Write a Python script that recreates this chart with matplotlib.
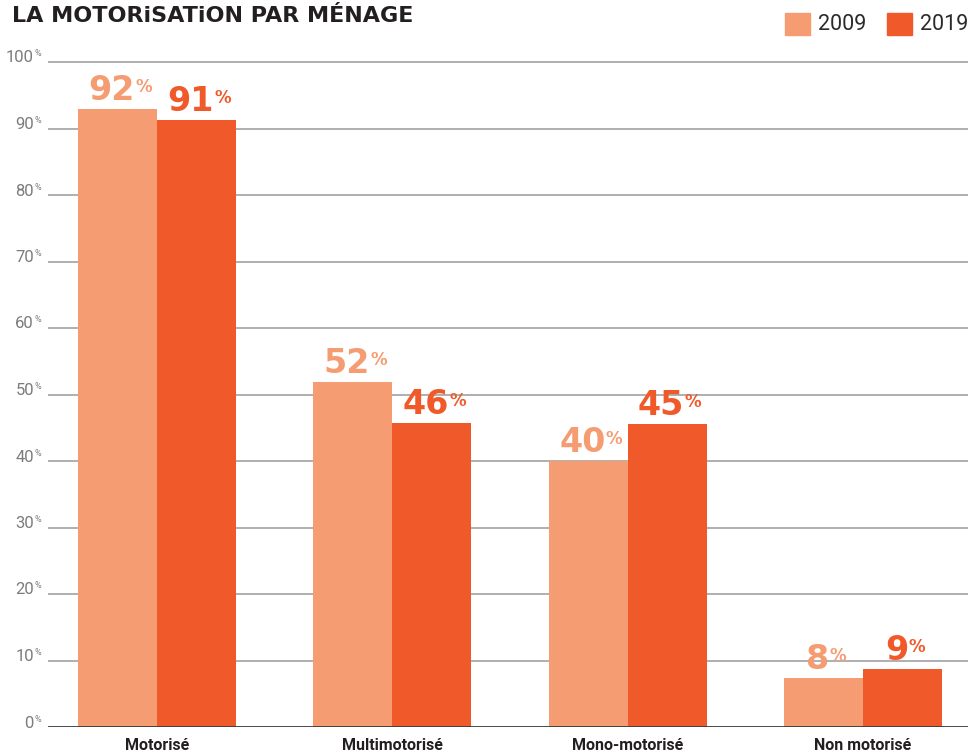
import numpy as np
import matplotlib.pyplot as plt
from matplotlib.patches import Rectangle

categories = ['Motorisé', 'Multimotorisé', 'Mono-motorisé', 'Non motorisé']
series = ['2009', '2019']
values_2009 = [92.9, 51.9, 40.0, 7.4]
values_2019 = [91.3, 45.7, 45.6, 8.7]
labels_2009 = ['92', '52', '40', '8']
labels_2019 = ['91', '46', '45', '9']
colors = ['#F59C72', '#F05A2B']
yticks = [0, 10, 20, 30, 40, 50, 60, 70, 80, 90, 100]

fig = plt.figure(figsize=(9.7, 7.54), dpi=100)
ax = fig.add_axes([48 / 970, 1 - 727 / 754, 920 / 970, (727 - 55.35) / 754])

x = np.arange(len(categories))
w = 0.335
bars_a = ax.bar(x - w / 2, values_2009, w, color=colors[0], zorder=2)
bars_b = ax.bar(x + w / 2, values_2019, w, color=colors[1], zorder=2)

ax.set_xlim(-0.463, 3.446)
ax.set_ylim(0, 101)
for s in ax.spines.values():
    s.set_visible(False)
ax.set_yticks([])
ax.set_xticks([])

# gridlines + axis line
for t in yticks[1:]:
    ax.axhline(t, color='#9a9a9a', lw=1.1, zorder=1)
ax.axhline(0, color='#3a3a3a', lw=1.3, zorder=3)

# y tick labels with small superscript %
for t in yticks:
    ax.annotate(str(t), xy=(0, t), xycoords=('axes fraction', 'data'),
                xytext=(-14, 4), textcoords='offset pixels',
                ha='right', va='center', fontsize=12, family='Roboto',
                color='#7c7c7c')
    ax.annotate('%', xy=(0, t), xycoords=('axes fraction', 'data'),
                xytext=(-13, 8), textcoords='offset pixels',
                ha='left', va='center', fontsize=6.5, family='Roboto',
                color='#7c7c7c')

# category labels
for i, c in enumerate(categories):
    ax.annotate(c, xy=(i, 0), xycoords='data', xytext=(0, -19),
                textcoords='offset pixels', ha='center', va='center',
                fontsize=11.5, family='Roboto', fontweight='bold',
                color='#231F20')

# value labels
nums = []
for bars, labs, col in [(bars_a, labels_2009, colors[0]), (bars_b, labels_2019, colors[1])]:
    for b, lab in zip(bars, labs):
        cx = b.get_x() + b.get_width() / 2
        t = ax.annotate(lab, xy=(cx, b.get_height()), xytext=(-6, 9),
                        textcoords='offset pixels', ha='center', va='baseline',
                        fontsize=24, fontweight='bold', family='DejaVu Sans',
                        color=col)
        nums.append((t, col))

fig.canvas.draw()
for t, col in nums:
    bb = t.get_window_extent()
    fig.text((bb.x1 + 0.5) / 970, (bb.y1 - 4) / 754, '%', ha='left', va='top',
             fontsize=12, fontweight='bold', family='DejaVu Sans', color=col)

# title
fig.text(12 / 970, 1 - 16 / 754, 'LA MOTORiSATiON PAR MÉNAGE', ha='left',
         va='center', fontsize=16, fontweight='bold', family='DejaVu Sans',
         color='#231F20')

# legend
leg_x = [785, 887]
for lx, name, col in zip(leg_x, series, colors):
    fig.add_artist(Rectangle((lx / 970, 1 - 35 / 754), 25 / 970, 22 / 754,
                             transform=fig.transFigure, color=col))
    fig.text((lx + 33) / 970, 1 - 24 / 754, name, ha='left', va='center',
             fontsize=15.5, family='Roboto', color='#2b2b2b')

fig.savefig('out.png', dpi=100)
